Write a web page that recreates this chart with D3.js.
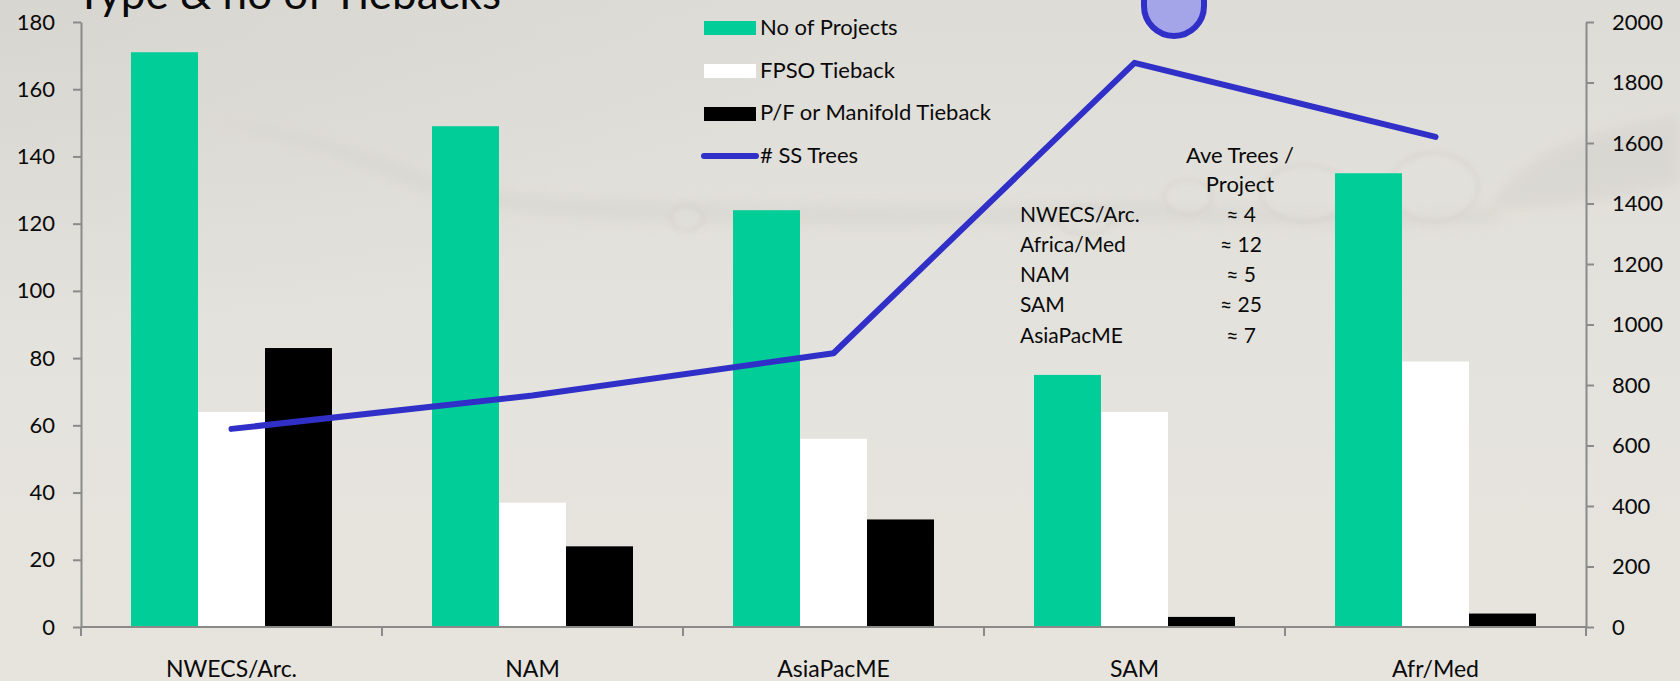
<!DOCTYPE html>
<html><head><meta charset="utf-8">
<script src="https://cdn.jsdelivr.net/npm/d3@7/dist/d3.min.js"></script>
<style>
html,body{margin:0;padding:0;background:#e2e0da;overflow:hidden}
svg{display:block}
text{font-family:Lato,"Open Sans",sans-serif;fill:#0a0a0a}
</style></head><body>
<svg id="c" width="1680" height="681"></svg>
<script>
const categories = ["NWECS/Arc.","NAM","AsiaPacME","SAM","Afr/Med"];
const noOfProjects = [171,149,124,75,135];
const fpsoTieback = [64,37,56,64,79];
const manifoldTieback = [83,24,32,3,4];
const ssTrees = [655,765,905,1865,1620];
const leftTicks = [0,20,40,60,80,100,120,140,160,180];
const rightTicks = [0,200,400,600,800,1000,1200,1400,1600,1800,2000];
const legendLabels = ["No of Projects","FPSO Tieback","P/F or Manifold Tieback","# SS Trees"];
const aveHeader = ["Ave Trees /","Project"];
const aveRegions = ["NWECS/Arc.","Africa/Med","NAM","SAM","AsiaPacME"];
const aveValues = ["≈ 4","≈ 12","≈ 5","≈ 25","≈ 7"];
const titleText = "Type & no of Tiebacks";

const svg = d3.select("#c");
const defs = svg.append("defs");
const g0 = defs.append("linearGradient").attr("id","bg").attr("x1",0).attr("y1",0).attr("x2",0).attr("y2",1);
[[0,"#dedcd7"],[0.3,"#e2e0da"],[0.6,"#e5e3dd"],[1,"#e6e4dd"]].forEach(s=>g0.append("stop").attr("offset",s[0]).attr("stop-color",s[1]));
const g1 = defs.append("radialGradient").attr("id","vig").attr("cx",0).attr("cy",0).attr("r",0.5);
g1.append("stop").attr("offset",0).attr("stop-color","#d0cec9").attr("stop-opacity",0.45);
g1.append("stop").attr("offset",1).attr("stop-color","#d0cec9").attr("stop-opacity",0);
defs.append("filter").attr("id","b8").attr("x","-30%").attr("y","-100%").attr("width","160%").attr("height","300%").append("feGaussianBlur").attr("stdDeviation",6);
defs.append("filter").attr("id","b2").attr("x","-30%").attr("y","-50%").attr("width","160%").attr("height","200%").append("feGaussianBlur").attr("stdDeviation",2.5);

// backdrop
svg.append("rect").attr("width",1680).attr("height",681).attr("fill","url(#bg)");
svg.append("rect").attr("width",1680).attr("height",681).attr("fill","url(#vig)");
const back = svg.append("g");
back.append("path").attr("d","M200,118 C300,130 370,150 420,172 C470,192 520,196 600,198 C760,204 1000,208 1120,200 C1250,206 1400,215 1500,205 L1500,222 C1400,232 1250,222 1120,222 C1000,226 800,228 640,222 C520,218 440,200 400,182 C340,156 280,138 200,118 Z")
  .attr("fill","#d2d0ca").attr("opacity",0.4).attr("filter","url(#b8)");
back.append("path").attr("d","M1490,205 C1520,160 1560,135 1680,115 L1680,185 C1620,195 1540,215 1490,205 Z").attr("fill","#d5d3cd").attr("opacity",0.6).attr("filter","url(#b8)");
[[687,218,16,12],[1085,220,26,14],[1188,197,24,17],[1305,193,44,28],[1434,187,44,34]].forEach(e=>{
  back.append("ellipse").attr("cx",e[0]).attr("cy",e[1]).attr("rx",e[2]).attr("ry",e[3])
    .attr("fill","#e3e1db").attr("stroke","#d0cec8").attr("stroke-width",4).attr("opacity",0.5).attr("filter","url(#b2)");
});

// scales
const L=81, R=1586, T=22, B=627;
const x0 = d3.scaleBand().domain(categories).range([L,R]);
const yL = d3.scaleLinear().domain([0,180]).range([B,T]);
const yR = d3.scaleLinear().domain([0,2000]).range([B,T]);
const barW = 67;
const series = [
  {values:noOfProjects,color:"#00cd98"},
  {values:fpsoTieback,color:"#ffffff"},
  {values:manifoldTieback,color:"#000000"}
];
series.forEach((s,i)=>{
  svg.append("g").selectAll("rect").data(categories).join("rect")
    .attr("x",c=>x0(c)+x0.bandwidth()/2+(i-1.5)*barW)
    .attr("width",barW)
    .attr("y",(c,k)=>yL(s.values[k]))
    .attr("height",(c,k)=>B-yL(s.values[k]))
    .attr("fill",s.color);
});

// axes
function styleAxis(size){ return g=>{
  g.selectAll("path,line").attr("stroke","#8a8a8a").attr("stroke-width",2);
  g.selectAll("text").attr("font-size",size).attr("fill","#0a0a0a");
};}
svg.append("g").attr("transform",`translate(${L},0)`)
  .call(d3.axisLeft(yL).tickValues(leftTicks).tickSize(8).tickPadding(18).tickSizeOuter(0).tickFormat(d3.format("d"))).call(styleAxis(22));
svg.append("g").attr("transform",`translate(${R},0)`)
  .call(d3.axisRight(yR).tickValues(rightTicks).tickSize(8).tickPadding(18).tickSizeOuter(0).tickFormat(d3.format("d"))).call(styleAxis(22));
const xLine = svg.append("g").attr("transform",`translate(0,${B})`)
  .call(d3.axisBottom(x0).tickSize(0).tickPadding(34).tickSizeOuter(0));
xLine.call(styleAxis(23));
xLine.select(".domain").attr("d",`M${L},0H${R}`);
svg.append("g").attr("transform",`translate(0,${B})`).selectAll("line")
  .data(d3.range(categories.length+1)).join("line")
  .attr("x1",i=>L+i*x0.bandwidth()).attr("x2",i=>L+i*x0.bandwidth())
  .attr("y1",0).attr("y2",9).attr("stroke","#8a8a8a").attr("stroke-width",2);

// line
const lineGen = d3.line().x((d,i)=>x0(categories[i])+x0.bandwidth()/2).y(d=>yR(d));
svg.append("path").attr("d",lineGen(ssTrees)).attr("fill","none")
  .attr("stroke","#3030c8").attr("stroke-width",6).attr("stroke-linecap","round").attr("stroke-linejoin","round");

// title
svg.append("text").attr("x",76).attr("y",9).attr("font-size",44).text(titleText);

// legend
const lg = svg.append("g");
const lgY=[28,71,114,156], lgBase=[35,78,120,163];
series.forEach((s,i)=>{
  lg.append("rect").attr("x",704).attr("y",lgY[i]-7).attr("width",52).attr("height",14).attr("fill",s.color);
});
lg.append("line").attr("x1",704).attr("x2",756).attr("y1",lgY[3]).attr("y2",lgY[3])
  .attr("stroke","#3030c8").attr("stroke-width",6).attr("stroke-linecap","round");
legendLabels.forEach((t,i)=>lg.append("text").attr("x",760).attr("y",lgBase[i]).attr("font-size",22).text(t));

// annotation table
const tb = svg.append("g");
const headBase=[163,192], rowBase=[222,252,282,312,343];
aveHeader.forEach((t,i)=>tb.append("text").attr("x",1240).attr("y",headBase[i]).attr("text-anchor","middle").attr("font-size",22).text(t));
aveRegions.forEach((t,i)=>tb.append("text").attr("x",1020).attr("y",rowBase[i]).attr("font-size",21).text(t));
aveValues.forEach((t,i)=>tb.append("text").attr("x",1241).attr("y",rowBase[i]).attr("text-anchor","middle").attr("font-size",21).text(t));

// rounded callout shape clipped by the top edge
svg.append("rect").attr("x",1144).attr("y",-40).attr("width",60).attr("height",76).attr("rx",30)
  .attr("fill","#a3a5e8").attr("stroke","#3030c8").attr("stroke-width",6);
</script>
</body></html>
